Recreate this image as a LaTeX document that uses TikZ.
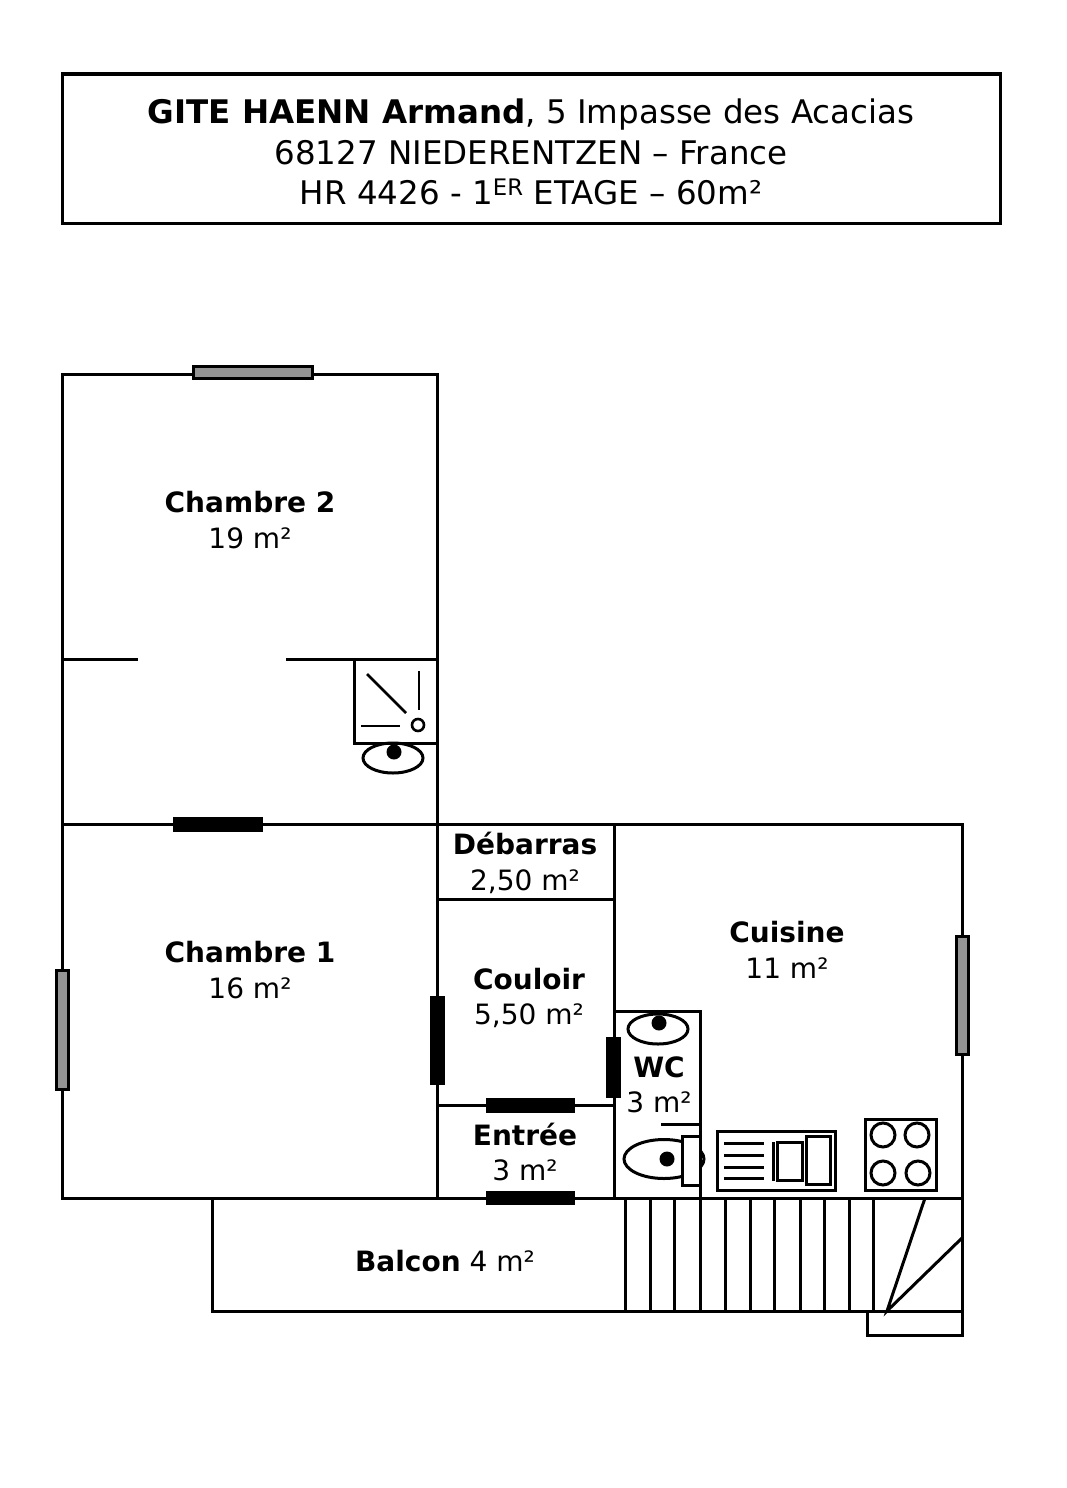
\documentclass[tikz,border=0pt]{standalone}
\usepackage{fontspec}
\setmainfont{DejaVu Sans}
\usepackage{xcolor}
\definecolor{wingray}{gray}{0.58}
\begin{document}
\begin{tikzpicture}[x=1pt,y=-1pt,line width=3pt,line cap=butt]
  \tikzstyle{every node}=[inner sep=0pt,text=black]
  \tikzstyle{titletext}=[align=center,font=\fontsize{32.5}{40.5}\selectfont]
  \tikzstyle{room}=[align=center,font=\fontsize{28}{35.5}\selectfont]
  \tikzstyle{window}=[draw,fill=wingray]
  \tikzstyle{door}=[fill=black,draw=none]
  \tikzstyle{thin}=[line width=2.6pt]

  \useasboundingbox (0,0) rectangle (1067,1488);

  % heading
  \draw (62,74) rectangle (1000,223);
  \node[titletext] (heading) at (531,152) {\textbf{GITE HAENN Armand}, 5 Impasse des Acacias\\68127 NIEDERENTZEN – France\\HR 4426 - 1\textsuperscript{ER} ETAGE – 60m²};

  % walls
  \draw (62,374) rectangle (437,1198);
  \draw (62,824) -- (962,824) -- (962,1198) -- (62,1198);
  \draw (62,659) -- (138,659) (286,659) -- (437,659);
  \draw (614,824) -- (614,1198);
  \draw (437,899) -- (614,899);
  \draw (437,1105) -- (614,1105);
  \draw (614,1011) -- (700,1011) -- (700,1198);
  \draw (661,1124) -- (700,1124);

  % balcony and stairs
  \draw (212,1198) -- (212,1311) -- (962,1311) -- (962,1198);
  \foreach \stepx in {625,650,674,700,725,750,774,800,824,849,873}
    \draw (\stepx,1198) -- (\stepx,1311);
  \draw (925,1198) -- (887,1311) -- (962,1238);
  \draw (867,1311) -- (867,1335) -- (962,1335) -- (962,1311);

  % windows
  \draw[window] (193,366) rectangle (312,378);
  \draw[window] (56,970) rectangle (68,1089);
  \draw[window] (956,936) rectangle (968,1054);

  % doors
  \fill[door] (173,817) rectangle (263,832);
  \fill[door] (430,996) rectangle (445,1085);
  \fill[door] (486,1098) rectangle (575,1113);
  \fill[door] (486,1191) rectangle (575,1205);
  \fill[door] (606,1037) rectangle (621,1098);

  % shower and basin
  \draw (354,659) rectangle (437,743);
  \draw[thin] (367,674) -- (406,713);
  \draw[thin] (419,671) -- (419,710);
  \draw[thin] (361,726) -- (400,726);
  \draw[thin] (418,725) circle (6);
  \draw (393,758) ellipse (30 and 15);
  \fill (394,752) circle (7.5);

  % wc
  \draw (658,1029) ellipse (30 and 15);
  \fill (659,1023) circle (7.5);
  \draw (664,1159) ellipse (40 and 19.5);
  \draw[fill=white] (682,1136) rectangle (700,1185);
  \fill (667,1159) circle (7.5);

  % sink
  \draw (717,1131) rectangle (835,1190);
  \foreach \liney in {1143,1155,1167,1178}
    \draw (724,\liney) -- (764,\liney);
  \draw (773,1142) -- (773,1181);
  \draw (777,1142) rectangle (802,1180);
  \draw (806,1136) rectangle (830,1184);

  % hob
  \draw (865,1119) rectangle (936,1190);
  \draw (883,1135) circle (12);
  \draw (917,1135) circle (12);
  \draw (883,1173) circle (12);
  \draw (918,1173) circle (12);

  % labels
  \node[room] (chambre2) at (250,520) {\textbf{Chambre 2}\\19 m²};
  \node[room] (chambre1) at (250,970) {\textbf{Chambre 1}\\16 m²};
  \node[room] (debarras) at (525,863) {\textbf{Débarras}\\2,50 m²};
  \node[room] (couloir) at (529,998) {\textbf{Couloir}\\5,50 m²};
  \node[room] (cuisine) at (787,950) {\textbf{Cuisine}\\11 m²};
  \node[room] (wc) at (659,1085) {\textbf{WC}\\3 m²};
  \node[room] (entree) at (525,1152) {\textbf{Entrée}\\3 m²};
  \node[room] (balcon) at (445,1261) {\textbf{Balcon} 4 m²};
\end{tikzpicture}
\end{document}
